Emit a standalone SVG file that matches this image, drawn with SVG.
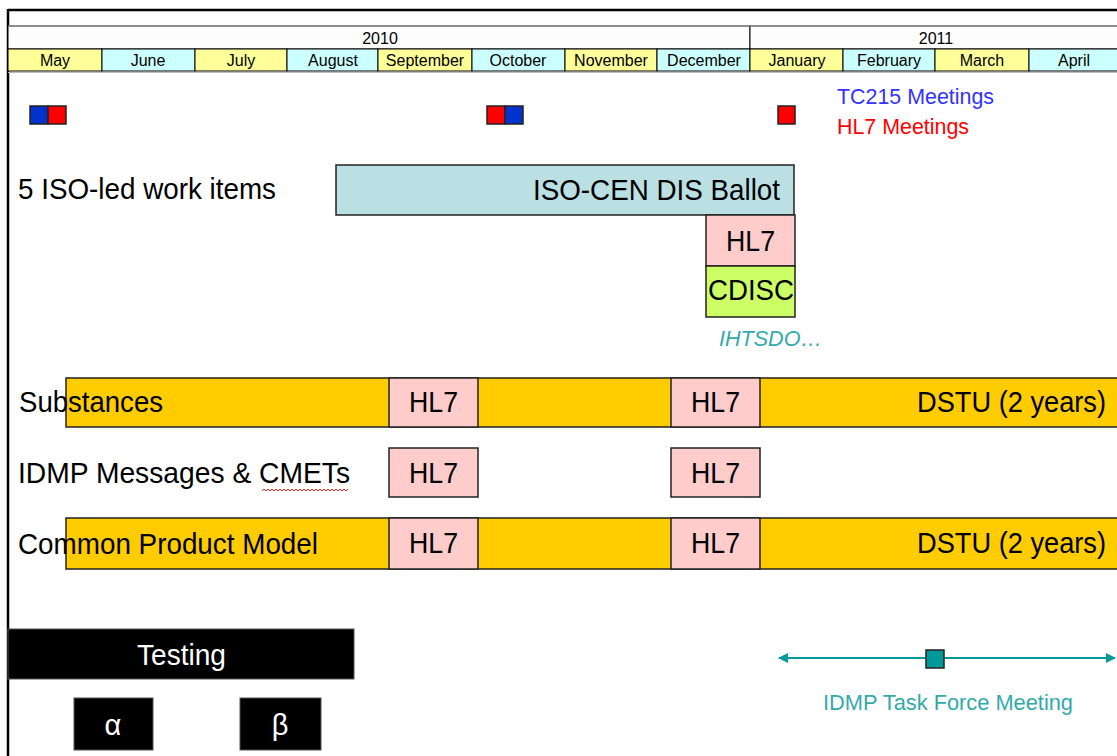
<svg xmlns="http://www.w3.org/2000/svg" width="1117" height="756" viewBox="0 0 1117 756">
<defs>
<style>
text{font-family:"Liberation Sans",Arial,sans-serif}
.mY{fill:#ffff99;stroke:#000;stroke-width:1}
.mC{fill:#ccffff;stroke:#000;stroke-width:1}
.mt{font-size:16px;text-anchor:middle;fill:#000}
.yr{font-size:16px;text-anchor:middle;fill:#000}
.lbl{font-size:29px;fill:#000}
.hl7{fill:#ffcccc;stroke:#222;stroke-width:1.5}
.bar{fill:#ffcc00;stroke:#222;stroke-width:1.5}
.iso{fill:#bbe0e3;stroke:#222;stroke-width:1.5}
.cdisc{fill:#ccff66;stroke:#222;stroke-width:1.5}
.blk{fill:#000;stroke:#555;stroke-width:1}
.wt{fill:#fff;font-size:29px}
.sq{stroke:#222;stroke-width:1.5}
.teal{fill:#33aaaa}
</style>
<marker id="ah" viewBox="0 0 10 10" refX="9" refY="5" markerWidth="5" markerHeight="5" orient="auto-start-reverse" markerUnits="strokeWidth">
<path d="M0,0 L10,5 L0,10 z" fill="#009999"/>
</marker>
</defs>
<rect width="1117" height="756" fill="#fff"/>
<g id="frame">
<line x1="8" y1="10" x2="1117" y2="10" stroke="#000" stroke-width="2.5"/>
<line x1="8" y1="9" x2="8" y2="756" stroke="#000" stroke-width="2.5"/>
<line x1="8" y1="72.5" x2="1117" y2="72.5" stroke="#bbb" stroke-width="1"/>
</g>
<g id="years">
<rect x="8" y="26" width="742" height="23" fill="#fdfdfd" stroke="#000" stroke-width="1"/>
<rect x="750" y="26" width="370" height="23" fill="#fdfdfd" stroke="#000" stroke-width="1"/>
<line x1="8" y1="26" x2="1117" y2="26" stroke="#999" stroke-width="1"/>
<text class="yr" x="380" y="44">2010</text>
<text class="yr" x="936" y="44">2011</text>
</g>
<g id="months">
<rect class="mY" x="8" y="49" width="94" height="22"/>
<rect class="mC" x="102" y="49" width="93" height="22"/>
<rect class="mY" x="195" y="49" width="92" height="22"/>
<rect class="mC" x="287" y="49" width="91" height="22"/>
<rect class="mY" x="378" y="49" width="94" height="22"/>
<rect class="mC" x="472" y="49" width="93" height="22"/>
<rect class="mY" x="565" y="49" width="92" height="22"/>
<rect class="mC" x="657" y="49" width="93" height="22"/>
<rect class="mY" x="750" y="49" width="93" height="22"/>
<rect class="mC" x="843" y="49" width="92" height="22"/>
<rect class="mY" x="935" y="49" width="94" height="22"/>
<rect class="mC" x="1029" y="49" width="92" height="22"/>
<text class="mt" x="55" y="66">May</text>
<text class="mt" x="148" y="66">June</text>
<text class="mt" x="241" y="66">July</text>
<text class="mt" x="333" y="66">August</text>
<text class="mt" x="425" y="66">September</text>
<text class="mt" x="518" y="66">October</text>
<text class="mt" x="611" y="66">November</text>
<text class="mt" x="704" y="66">December</text>
<text class="mt" x="797" y="66">January</text>
<text class="mt" x="889" y="66">February</text>
<text class="mt" x="982" y="66">March</text>
<text class="mt" x="1074" y="66">April</text>
</g>
<g id="meetings-may">
<rect class="sq" x="30" y="106" width="18" height="18" fill="#0033cc"/>
<rect class="sq" x="48" y="106" width="18" height="18" fill="#ff0000"/>
</g>
<g id="meetings-oct">
<rect class="sq" x="487" y="106" width="18" height="18" fill="#ff0000"/>
<rect class="sq" x="505" y="106" width="18" height="18" fill="#0033cc"/>
</g>
<g id="meetings-jan">
<rect class="sq" x="778" y="106" width="17" height="18" fill="#ff0000"/>
</g>
<g id="legend">
<text x="837" y="104" font-size="21.5" fill="#3333ff" textLength="157" lengthAdjust="spacingAndGlyphs">TC215 Meetings</text>
<text x="837" y="134" font-size="21.5" fill="#ff0000" textLength="132" lengthAdjust="spacingAndGlyphs">HL7 Meetings</text>
</g>
<g id="iso-label"><text class="lbl" x="18" y="199" textLength="258" lengthAdjust="spacingAndGlyphs">5 ISO-led work items</text></g>
<g id="iso-ballot">
<rect class="iso" x="336" y="165" width="458" height="50"/>
<text class="lbl" x="533" y="200" textLength="247" lengthAdjust="spacingAndGlyphs">ISO-CEN DIS Ballot</text>
</g>
<g id="iso-hl7">
<rect class="hl7" x="706" y="215" width="89" height="51"/>
<text class="lbl" x="726" y="251" textLength="49" lengthAdjust="spacingAndGlyphs">HL7</text>
</g>
<g id="iso-cdisc">
<rect class="cdisc" x="706" y="266" width="89" height="51"/>
<text class="lbl" x="708" y="300" textLength="86" lengthAdjust="spacingAndGlyphs">CDISC</text>
</g>
<g id="ihtsdo"><text x="719" y="346" font-size="21.5" font-style="italic" class="teal" textLength="103" lengthAdjust="spacingAndGlyphs">IHTSDO…</text></g>
<g id="substances">
<rect class="bar" x="66" y="378" width="1060" height="49"/>
<rect class="hl7" x="389" y="378" width="89" height="49"/>
<rect class="hl7" x="671" y="378" width="89" height="49"/>
<text class="lbl" x="19" y="412" textLength="144" lengthAdjust="spacingAndGlyphs">Substances</text>
<text class="lbl" x="409" y="412" textLength="49" lengthAdjust="spacingAndGlyphs">HL7</text>
<text class="lbl" x="691" y="412" textLength="49" lengthAdjust="spacingAndGlyphs">HL7</text>
<text class="lbl" x="917" y="412" textLength="189" lengthAdjust="spacingAndGlyphs">DSTU (2 years)</text>
</g>
<g id="idmp-messages">
<text class="lbl" x="18" y="483" textLength="332" lengthAdjust="spacingAndGlyphs">IDMP Messages &amp; CMETs</text>
<path d="M262,491 l2,-2 2,2 2,-2 2,2 2,-2 2,2 2,-2 2,2 2,-2 2,2 2,-2 2,2 2,-2 2,2 2,-2 2,2 2,-2 2,2 2,-2 2,2 2,-2 2,2 2,-2 2,2 2,-2 2,2 2,-2 2,2 2,-2 2,2 2,-2 2,2 2,-2 2,2 2,-2 2,2 2,-2 2,2 2,-2 2,2 2,-2 2,2 2,-2" fill="none" stroke="#ee2222" stroke-width="1"/>
<rect class="hl7" x="389" y="448" width="89" height="49"/>
<rect class="hl7" x="671" y="448" width="89" height="49"/>
<text class="lbl" x="409" y="483" textLength="49" lengthAdjust="spacingAndGlyphs">HL7</text>
<text class="lbl" x="691" y="483" textLength="49" lengthAdjust="spacingAndGlyphs">HL7</text>
</g>
<g id="common-product-model">
<rect class="bar" x="66" y="518" width="1060" height="51"/>
<rect class="hl7" x="389" y="518" width="89" height="51"/>
<rect class="hl7" x="671" y="518" width="89" height="51"/>
<text class="lbl" x="18" y="554" textLength="300" lengthAdjust="spacingAndGlyphs">Common Product Model</text>
<text class="lbl" x="409" y="553" textLength="49" lengthAdjust="spacingAndGlyphs">HL7</text>
<text class="lbl" x="691" y="553" textLength="49" lengthAdjust="spacingAndGlyphs">HL7</text>
<text class="lbl" x="917" y="553" textLength="189" lengthAdjust="spacingAndGlyphs">DSTU (2 years)</text>
</g>
<g id="testing">
<rect class="blk" x="8" y="629" width="346" height="50"/>
<text class="wt" x="137" y="665" textLength="89" lengthAdjust="spacingAndGlyphs">Testing</text>
</g>
<g id="alpha">
<rect class="blk" x="74" y="698" width="79" height="52"/>
<text class="wt" x="113" y="735" text-anchor="middle">α</text>
</g>
<g id="beta">
<rect class="blk" x="240" y="698" width="81" height="52"/>
<text class="wt" x="280" y="735" text-anchor="middle">β</text>
</g>
<g id="connectors">
<line x1="779" y1="658" x2="1115" y2="658" stroke="#009999" stroke-width="2" marker-start="url(#ah)" marker-end="url(#ah)"/>
</g>
<g id="task-force">
<rect class="sq" x="926" y="650" width="18" height="18" fill="#009999"/>
<text x="823" y="710" font-size="22" class="teal" textLength="250" lengthAdjust="spacingAndGlyphs">IDMP Task Force Meeting</text>
</g>
</svg>
